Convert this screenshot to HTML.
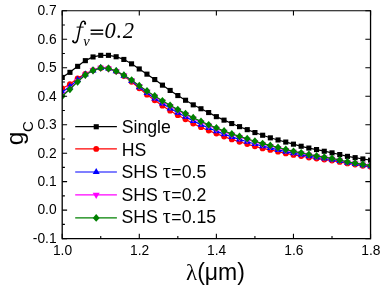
<!DOCTYPE html>
<html><head><meta charset="utf-8"><title>chart</title>
<style>
html,body{margin:0;padding:0;background:#fff;}
svg{display:block;filter:opacity(1);}
text{font-family:"Liberation Sans",sans-serif;fill:#000;}
.s{font-family:"Liberation Serif",serif;}
.i{font-family:"Liberation Serif",serif;font-style:italic;}
</style></head><body>
<svg width="382" height="286" viewBox="0 0 382 286">
<rect width="382" height="286" fill="#fff"/>
<defs><clipPath id="c"><rect x="62.2" y="10.8" width="308.35" height="227.79999999999998"/></clipPath></defs>
<g clip-path="url(#c)">
<polyline points="62.2,77.4 69.9,72.3 77.6,66.3 85.3,60.6 93.0,56.9 100.7,55.3 108.5,55.3 116.2,56.7 123.9,59.5 131.6,63.8 139.3,68.9 147.0,74.2 154.7,79.5 162.4,85.1 170.1,90.5 177.8,95.5 185.5,100.2 193.2,104.8 201.0,108.7 208.7,112.6 216.4,116.6 224.1,120.1 231.8,123.5 239.5,126.7 247.2,129.6 254.9,132.5 262.6,135.3 270.3,137.8 278.0,140.0 285.8,142.1 293.5,144.2 301.2,146.3 308.9,148.1 316.6,149.6 324.3,151.2 332.0,152.8 339.7,154.5 347.4,156.3 355.1,157.6 362.8,159.0 370.6,160.2" fill="none" stroke="#000" stroke-width="1.2"/>
<rect x="59.7" y="74.9" width="5.1" height="5.1" fill="#000"/>
<rect x="67.4" y="69.8" width="5.1" height="5.1" fill="#000"/>
<rect x="75.1" y="63.8" width="5.1" height="5.1" fill="#000"/>
<rect x="82.8" y="58.1" width="5.1" height="5.1" fill="#000"/>
<rect x="90.5" y="54.4" width="5.1" height="5.1" fill="#000"/>
<rect x="98.2" y="52.8" width="5.1" height="5.1" fill="#000"/>
<rect x="105.9" y="52.8" width="5.1" height="5.1" fill="#000"/>
<rect x="113.6" y="54.2" width="5.1" height="5.1" fill="#000"/>
<rect x="121.3" y="56.9" width="5.1" height="5.1" fill="#000"/>
<rect x="129.0" y="61.3" width="5.1" height="5.1" fill="#000"/>
<rect x="136.7" y="66.4" width="5.1" height="5.1" fill="#000"/>
<rect x="144.4" y="71.6" width="5.1" height="5.1" fill="#000"/>
<rect x="152.2" y="77.0" width="5.1" height="5.1" fill="#000"/>
<rect x="159.9" y="82.6" width="5.1" height="5.1" fill="#000"/>
<rect x="167.6" y="87.9" width="5.1" height="5.1" fill="#000"/>
<rect x="175.3" y="93.0" width="5.1" height="5.1" fill="#000"/>
<rect x="183.0" y="97.7" width="5.1" height="5.1" fill="#000"/>
<rect x="190.7" y="102.3" width="5.1" height="5.1" fill="#000"/>
<rect x="198.4" y="106.2" width="5.1" height="5.1" fill="#000"/>
<rect x="206.1" y="110.0" width="5.1" height="5.1" fill="#000"/>
<rect x="213.8" y="114.1" width="5.1" height="5.1" fill="#000"/>
<rect x="221.5" y="117.6" width="5.1" height="5.1" fill="#000"/>
<rect x="229.2" y="121.0" width="5.1" height="5.1" fill="#000"/>
<rect x="237.0" y="124.1" width="5.1" height="5.1" fill="#000"/>
<rect x="244.7" y="127.1" width="5.1" height="5.1" fill="#000"/>
<rect x="252.4" y="130.0" width="5.1" height="5.1" fill="#000"/>
<rect x="260.1" y="132.7" width="5.1" height="5.1" fill="#000"/>
<rect x="267.8" y="135.3" width="5.1" height="5.1" fill="#000"/>
<rect x="275.5" y="137.4" width="5.1" height="5.1" fill="#000"/>
<rect x="283.2" y="139.5" width="5.1" height="5.1" fill="#000"/>
<rect x="290.9" y="141.6" width="5.1" height="5.1" fill="#000"/>
<rect x="298.6" y="143.7" width="5.1" height="5.1" fill="#000"/>
<rect x="306.3" y="145.5" width="5.1" height="5.1" fill="#000"/>
<rect x="314.0" y="147.0" width="5.1" height="5.1" fill="#000"/>
<rect x="321.7" y="148.7" width="5.1" height="5.1" fill="#000"/>
<rect x="329.5" y="150.3" width="5.1" height="5.1" fill="#000"/>
<rect x="337.2" y="152.0" width="5.1" height="5.1" fill="#000"/>
<rect x="344.9" y="153.8" width="5.1" height="5.1" fill="#000"/>
<rect x="352.6" y="155.1" width="5.1" height="5.1" fill="#000"/>
<rect x="360.3" y="156.4" width="5.1" height="5.1" fill="#000"/>
<rect x="368.0" y="157.6" width="5.1" height="5.1" fill="#000"/>
<polyline points="62.2,88.5 69.9,84.2 77.6,78.3 85.3,73.9 93.0,70.2 100.7,67.9 108.5,68.5 116.2,71.3 123.9,76.0 131.6,81.8 139.3,88.3 147.0,94.7 154.7,100.3 162.4,105.7 170.1,110.7 177.8,115.2 185.5,119.3 193.2,123.6 201.0,127.2 208.7,130.6 216.4,133.6 224.1,136.6 231.8,139.4 239.5,141.8 247.2,144.1 254.9,146.3 262.6,148.4 270.3,149.9 278.0,151.7 285.8,153.4 293.5,154.9 301.2,156.1 308.9,157.5 316.6,158.6 324.3,159.6 332.0,160.6 339.7,161.9 347.4,163.4 355.1,164.6 362.8,165.8 370.6,166.8" fill="none" stroke="#ff0000" stroke-width="1.2"/>
<circle cx="62.2" cy="88.5" r="2.9" fill="#ff0000"/>
<circle cx="69.9" cy="84.2" r="2.9" fill="#ff0000"/>
<circle cx="77.6" cy="78.3" r="2.9" fill="#ff0000"/>
<circle cx="85.3" cy="73.9" r="2.9" fill="#ff0000"/>
<circle cx="93.0" cy="70.2" r="2.9" fill="#ff0000"/>
<circle cx="100.7" cy="67.9" r="2.9" fill="#ff0000"/>
<circle cx="108.5" cy="68.5" r="2.9" fill="#ff0000"/>
<circle cx="116.2" cy="71.3" r="2.9" fill="#ff0000"/>
<circle cx="123.9" cy="76.0" r="2.9" fill="#ff0000"/>
<circle cx="131.6" cy="81.8" r="2.9" fill="#ff0000"/>
<circle cx="139.3" cy="88.3" r="2.9" fill="#ff0000"/>
<circle cx="147.0" cy="94.7" r="2.9" fill="#ff0000"/>
<circle cx="154.7" cy="100.3" r="2.9" fill="#ff0000"/>
<circle cx="162.4" cy="105.7" r="2.9" fill="#ff0000"/>
<circle cx="170.1" cy="110.7" r="2.9" fill="#ff0000"/>
<circle cx="177.8" cy="115.2" r="2.9" fill="#ff0000"/>
<circle cx="185.5" cy="119.3" r="2.9" fill="#ff0000"/>
<circle cx="193.2" cy="123.6" r="2.9" fill="#ff0000"/>
<circle cx="201.0" cy="127.2" r="2.9" fill="#ff0000"/>
<circle cx="208.7" cy="130.6" r="2.9" fill="#ff0000"/>
<circle cx="216.4" cy="133.6" r="2.9" fill="#ff0000"/>
<circle cx="224.1" cy="136.6" r="2.9" fill="#ff0000"/>
<circle cx="231.8" cy="139.4" r="2.9" fill="#ff0000"/>
<circle cx="239.5" cy="141.8" r="2.9" fill="#ff0000"/>
<circle cx="247.2" cy="144.1" r="2.9" fill="#ff0000"/>
<circle cx="254.9" cy="146.3" r="2.9" fill="#ff0000"/>
<circle cx="262.6" cy="148.4" r="2.9" fill="#ff0000"/>
<circle cx="270.3" cy="149.9" r="2.9" fill="#ff0000"/>
<circle cx="278.0" cy="151.7" r="2.9" fill="#ff0000"/>
<circle cx="285.8" cy="153.4" r="2.9" fill="#ff0000"/>
<circle cx="293.5" cy="154.9" r="2.9" fill="#ff0000"/>
<circle cx="301.2" cy="156.1" r="2.9" fill="#ff0000"/>
<circle cx="308.9" cy="157.5" r="2.9" fill="#ff0000"/>
<circle cx="316.6" cy="158.6" r="2.9" fill="#ff0000"/>
<circle cx="324.3" cy="159.6" r="2.9" fill="#ff0000"/>
<circle cx="332.0" cy="160.6" r="2.9" fill="#ff0000"/>
<circle cx="339.7" cy="161.9" r="2.9" fill="#ff0000"/>
<circle cx="347.4" cy="163.4" r="2.9" fill="#ff0000"/>
<circle cx="355.1" cy="164.6" r="2.9" fill="#ff0000"/>
<circle cx="362.8" cy="165.8" r="2.9" fill="#ff0000"/>
<circle cx="370.6" cy="166.8" r="2.9" fill="#ff0000"/>
<polyline points="62.2,92.0 69.9,86.5 77.6,79.9 85.3,74.4 93.0,70.3 100.7,67.9 108.5,68.5 116.2,71.2 123.9,75.6 131.6,81.0 139.3,87.1 147.0,93.0 154.7,98.4 162.4,103.5 170.1,108.3 177.8,112.7 185.5,116.7 193.2,120.9 201.0,124.6 208.7,128.0 216.4,131.1 224.1,134.1 231.8,136.9 239.5,139.4 247.2,141.7 254.9,144.0 262.6,146.2 270.3,147.9 278.0,149.8 285.8,151.6 293.5,153.2 301.2,154.6 308.9,156.1 316.6,157.4 324.3,158.5 332.0,159.6 339.7,161.0 347.4,162.7 355.1,163.9 362.8,165.1 370.6,166.1" fill="none" stroke="#0000ff" stroke-width="1.2"/>
<path d="M62.2,87.9l3.5,6.2h-7.0z" fill="#0000ff"/>
<path d="M69.9,82.4l3.5,6.2h-7.0z" fill="#0000ff"/>
<path d="M77.6,75.8l3.5,6.2h-7.0z" fill="#0000ff"/>
<path d="M85.3,70.3l3.5,6.2h-7.0z" fill="#0000ff"/>
<path d="M93.0,66.2l3.5,6.2h-7.0z" fill="#0000ff"/>
<path d="M100.7,63.8l3.5,6.2h-7.0z" fill="#0000ff"/>
<path d="M108.5,64.4l3.5,6.2h-7.0z" fill="#0000ff"/>
<path d="M116.2,67.1l3.5,6.2h-7.0z" fill="#0000ff"/>
<path d="M123.9,71.5l3.5,6.2h-7.0z" fill="#0000ff"/>
<path d="M131.6,76.9l3.5,6.2h-7.0z" fill="#0000ff"/>
<path d="M139.3,83.0l3.5,6.2h-7.0z" fill="#0000ff"/>
<path d="M147.0,88.9l3.5,6.2h-7.0z" fill="#0000ff"/>
<path d="M154.7,94.3l3.5,6.2h-7.0z" fill="#0000ff"/>
<path d="M162.4,99.4l3.5,6.2h-7.0z" fill="#0000ff"/>
<path d="M170.1,104.2l3.5,6.2h-7.0z" fill="#0000ff"/>
<path d="M177.8,108.6l3.5,6.2h-7.0z" fill="#0000ff"/>
<path d="M185.5,112.6l3.5,6.2h-7.0z" fill="#0000ff"/>
<path d="M193.2,116.8l3.5,6.2h-7.0z" fill="#0000ff"/>
<path d="M201.0,120.5l3.5,6.2h-7.0z" fill="#0000ff"/>
<path d="M208.7,123.9l3.5,6.2h-7.0z" fill="#0000ff"/>
<path d="M216.4,127.0l3.5,6.2h-7.0z" fill="#0000ff"/>
<path d="M224.1,130.0l3.5,6.2h-7.0z" fill="#0000ff"/>
<path d="M231.8,132.8l3.5,6.2h-7.0z" fill="#0000ff"/>
<path d="M239.5,135.3l3.5,6.2h-7.0z" fill="#0000ff"/>
<path d="M247.2,137.6l3.5,6.2h-7.0z" fill="#0000ff"/>
<path d="M254.9,139.9l3.5,6.2h-7.0z" fill="#0000ff"/>
<path d="M262.6,142.1l3.5,6.2h-7.0z" fill="#0000ff"/>
<path d="M270.3,143.8l3.5,6.2h-7.0z" fill="#0000ff"/>
<path d="M278.0,145.7l3.5,6.2h-7.0z" fill="#0000ff"/>
<path d="M285.8,147.5l3.5,6.2h-7.0z" fill="#0000ff"/>
<path d="M293.5,149.1l3.5,6.2h-7.0z" fill="#0000ff"/>
<path d="M301.2,150.5l3.5,6.2h-7.0z" fill="#0000ff"/>
<path d="M308.9,152.0l3.5,6.2h-7.0z" fill="#0000ff"/>
<path d="M316.6,153.3l3.5,6.2h-7.0z" fill="#0000ff"/>
<path d="M324.3,154.4l3.5,6.2h-7.0z" fill="#0000ff"/>
<path d="M332.0,155.5l3.5,6.2h-7.0z" fill="#0000ff"/>
<path d="M339.7,156.9l3.5,6.2h-7.0z" fill="#0000ff"/>
<path d="M347.4,158.6l3.5,6.2h-7.0z" fill="#0000ff"/>
<path d="M355.1,159.8l3.5,6.2h-7.0z" fill="#0000ff"/>
<path d="M362.8,161.0l3.5,6.2h-7.0z" fill="#0000ff"/>
<path d="M370.6,162.0l3.5,6.2h-7.0z" fill="#0000ff"/>
<polyline points="62.2,95.1 69.9,88.6 77.6,81.2 85.3,74.8 93.0,70.4 100.7,67.9 108.5,68.5 116.2,71.1 123.9,75.3 131.6,80.3 139.3,86.1 147.0,91.5 154.7,96.7 162.4,101.6 170.1,106.1 177.8,110.4 185.5,114.4 193.2,118.6 201.0,122.3 208.7,125.7 216.4,128.8 224.1,131.9 231.8,134.7 239.5,137.2 247.2,139.5 254.9,142.0 262.6,144.3 270.3,146.0 278.0,148.1 285.8,150.1 293.5,151.8 301.2,153.3 308.9,154.9 316.6,156.3 324.3,157.5 332.0,158.8 339.7,160.3 347.4,162.0 355.1,163.3 362.8,164.5 370.6,165.6" fill="none" stroke="#ff00ff" stroke-width="1.2"/>
<path d="M62.2,99.3l3.5,-6.3h-7.0z" fill="#ff00ff"/>
<path d="M69.9,92.8l3.5,-6.3h-7.0z" fill="#ff00ff"/>
<path d="M77.6,85.4l3.5,-6.3h-7.0z" fill="#ff00ff"/>
<path d="M85.3,79.0l3.5,-6.3h-7.0z" fill="#ff00ff"/>
<path d="M93.0,74.6l3.5,-6.3h-7.0z" fill="#ff00ff"/>
<path d="M100.7,72.1l3.5,-6.3h-7.0z" fill="#ff00ff"/>
<path d="M108.5,72.7l3.5,-6.3h-7.0z" fill="#ff00ff"/>
<path d="M116.2,75.3l3.5,-6.3h-7.0z" fill="#ff00ff"/>
<path d="M123.9,79.5l3.5,-6.3h-7.0z" fill="#ff00ff"/>
<path d="M131.6,84.5l3.5,-6.3h-7.0z" fill="#ff00ff"/>
<path d="M139.3,90.3l3.5,-6.3h-7.0z" fill="#ff00ff"/>
<path d="M147.0,95.7l3.5,-6.3h-7.0z" fill="#ff00ff"/>
<path d="M154.7,100.9l3.5,-6.3h-7.0z" fill="#ff00ff"/>
<path d="M162.4,105.8l3.5,-6.3h-7.0z" fill="#ff00ff"/>
<path d="M170.1,110.3l3.5,-6.3h-7.0z" fill="#ff00ff"/>
<path d="M177.8,114.6l3.5,-6.3h-7.0z" fill="#ff00ff"/>
<path d="M185.5,118.6l3.5,-6.3h-7.0z" fill="#ff00ff"/>
<path d="M193.2,122.8l3.5,-6.3h-7.0z" fill="#ff00ff"/>
<path d="M201.0,126.5l3.5,-6.3h-7.0z" fill="#ff00ff"/>
<path d="M208.7,129.9l3.5,-6.3h-7.0z" fill="#ff00ff"/>
<path d="M216.4,133.0l3.5,-6.3h-7.0z" fill="#ff00ff"/>
<path d="M224.1,136.1l3.5,-6.3h-7.0z" fill="#ff00ff"/>
<path d="M231.8,138.9l3.5,-6.3h-7.0z" fill="#ff00ff"/>
<path d="M239.5,141.4l3.5,-6.3h-7.0z" fill="#ff00ff"/>
<path d="M247.2,143.7l3.5,-6.3h-7.0z" fill="#ff00ff"/>
<path d="M254.9,146.2l3.5,-6.3h-7.0z" fill="#ff00ff"/>
<path d="M262.6,148.5l3.5,-6.3h-7.0z" fill="#ff00ff"/>
<path d="M270.3,150.2l3.5,-6.3h-7.0z" fill="#ff00ff"/>
<path d="M278.0,152.3l3.5,-6.3h-7.0z" fill="#ff00ff"/>
<path d="M285.8,154.3l3.5,-6.3h-7.0z" fill="#ff00ff"/>
<path d="M293.5,156.0l3.5,-6.3h-7.0z" fill="#ff00ff"/>
<path d="M301.2,157.5l3.5,-6.3h-7.0z" fill="#ff00ff"/>
<path d="M308.9,159.1l3.5,-6.3h-7.0z" fill="#ff00ff"/>
<path d="M316.6,160.5l3.5,-6.3h-7.0z" fill="#ff00ff"/>
<path d="M324.3,161.7l3.5,-6.3h-7.0z" fill="#ff00ff"/>
<path d="M332.0,163.0l3.5,-6.3h-7.0z" fill="#ff00ff"/>
<path d="M339.7,164.5l3.5,-6.3h-7.0z" fill="#ff00ff"/>
<path d="M347.4,166.2l3.5,-6.3h-7.0z" fill="#ff00ff"/>
<path d="M355.1,167.5l3.5,-6.3h-7.0z" fill="#ff00ff"/>
<path d="M362.8,168.7l3.5,-6.3h-7.0z" fill="#ff00ff"/>
<path d="M370.6,169.8l3.5,-6.3h-7.0z" fill="#ff00ff"/>
<polyline points="62.2,96.2 69.9,89.3 77.6,81.8 85.3,75.0 93.0,70.5 100.7,67.9 108.5,68.5 116.2,71.0 123.9,75.2 131.6,80.1 139.3,85.7 147.0,91.0 154.7,96.0 162.4,100.8 170.1,105.3 177.8,109.6 185.5,113.6 193.2,117.7 201.0,121.4 208.7,124.8 216.4,127.9 224.1,131.0 231.8,133.9 239.5,136.4 247.2,138.7 254.9,141.2 262.6,143.6 270.3,145.4 278.0,147.5 285.8,149.5 293.5,151.3 301.2,152.8 308.9,154.5 316.6,155.9 324.3,157.2 332.0,158.4 339.7,160.0 347.4,161.8 355.1,163.1 362.8,164.3 370.6,165.4" fill="none" stroke="#008000" stroke-width="1.2"/>
<path d="M62.2,92.3l3.45,3.9l-3.45,3.9l-3.45,-3.9z" fill="#008000"/>
<path d="M69.9,85.4l3.45,3.9l-3.45,3.9l-3.45,-3.9z" fill="#008000"/>
<path d="M77.6,77.9l3.45,3.9l-3.45,3.9l-3.45,-3.9z" fill="#008000"/>
<path d="M85.3,71.1l3.45,3.9l-3.45,3.9l-3.45,-3.9z" fill="#008000"/>
<path d="M93.0,66.6l3.45,3.9l-3.45,3.9l-3.45,-3.9z" fill="#008000"/>
<path d="M100.7,64.0l3.45,3.9l-3.45,3.9l-3.45,-3.9z" fill="#008000"/>
<path d="M108.5,64.6l3.45,3.9l-3.45,3.9l-3.45,-3.9z" fill="#008000"/>
<path d="M116.2,67.1l3.45,3.9l-3.45,3.9l-3.45,-3.9z" fill="#008000"/>
<path d="M123.9,71.3l3.45,3.9l-3.45,3.9l-3.45,-3.9z" fill="#008000"/>
<path d="M131.6,76.2l3.45,3.9l-3.45,3.9l-3.45,-3.9z" fill="#008000"/>
<path d="M139.3,81.8l3.45,3.9l-3.45,3.9l-3.45,-3.9z" fill="#008000"/>
<path d="M147.0,87.1l3.45,3.9l-3.45,3.9l-3.45,-3.9z" fill="#008000"/>
<path d="M154.7,92.1l3.45,3.9l-3.45,3.9l-3.45,-3.9z" fill="#008000"/>
<path d="M162.4,96.9l3.45,3.9l-3.45,3.9l-3.45,-3.9z" fill="#008000"/>
<path d="M170.1,101.4l3.45,3.9l-3.45,3.9l-3.45,-3.9z" fill="#008000"/>
<path d="M177.8,105.7l3.45,3.9l-3.45,3.9l-3.45,-3.9z" fill="#008000"/>
<path d="M185.5,109.7l3.45,3.9l-3.45,3.9l-3.45,-3.9z" fill="#008000"/>
<path d="M193.2,113.8l3.45,3.9l-3.45,3.9l-3.45,-3.9z" fill="#008000"/>
<path d="M201.0,117.5l3.45,3.9l-3.45,3.9l-3.45,-3.9z" fill="#008000"/>
<path d="M208.7,120.9l3.45,3.9l-3.45,3.9l-3.45,-3.9z" fill="#008000"/>
<path d="M216.4,124.0l3.45,3.9l-3.45,3.9l-3.45,-3.9z" fill="#008000"/>
<path d="M224.1,127.1l3.45,3.9l-3.45,3.9l-3.45,-3.9z" fill="#008000"/>
<path d="M231.8,130.0l3.45,3.9l-3.45,3.9l-3.45,-3.9z" fill="#008000"/>
<path d="M239.5,132.5l3.45,3.9l-3.45,3.9l-3.45,-3.9z" fill="#008000"/>
<path d="M247.2,134.8l3.45,3.9l-3.45,3.9l-3.45,-3.9z" fill="#008000"/>
<path d="M254.9,137.3l3.45,3.9l-3.45,3.9l-3.45,-3.9z" fill="#008000"/>
<path d="M262.6,139.7l3.45,3.9l-3.45,3.9l-3.45,-3.9z" fill="#008000"/>
<path d="M270.3,141.5l3.45,3.9l-3.45,3.9l-3.45,-3.9z" fill="#008000"/>
<path d="M278.0,143.6l3.45,3.9l-3.45,3.9l-3.45,-3.9z" fill="#008000"/>
<path d="M285.8,145.6l3.45,3.9l-3.45,3.9l-3.45,-3.9z" fill="#008000"/>
<path d="M293.5,147.4l3.45,3.9l-3.45,3.9l-3.45,-3.9z" fill="#008000"/>
<path d="M301.2,148.9l3.45,3.9l-3.45,3.9l-3.45,-3.9z" fill="#008000"/>
<path d="M308.9,150.6l3.45,3.9l-3.45,3.9l-3.45,-3.9z" fill="#008000"/>
<path d="M316.6,152.0l3.45,3.9l-3.45,3.9l-3.45,-3.9z" fill="#008000"/>
<path d="M324.3,153.3l3.45,3.9l-3.45,3.9l-3.45,-3.9z" fill="#008000"/>
<path d="M332.0,154.5l3.45,3.9l-3.45,3.9l-3.45,-3.9z" fill="#008000"/>
<path d="M339.7,156.1l3.45,3.9l-3.45,3.9l-3.45,-3.9z" fill="#008000"/>
<path d="M347.4,157.9l3.45,3.9l-3.45,3.9l-3.45,-3.9z" fill="#008000"/>
<path d="M355.1,159.2l3.45,3.9l-3.45,3.9l-3.45,-3.9z" fill="#008000"/>
<path d="M362.8,160.4l3.45,3.9l-3.45,3.9l-3.45,-3.9z" fill="#008000"/>
<path d="M370.6,161.5l3.45,3.9l-3.45,3.9l-3.45,-3.9z" fill="#008000"/>
</g>
<path d="M62.2,10.200000000000001V239.25M370.55,10.200000000000001V239.25" fill="none" stroke="#000" stroke-width="1.3"/>
<path d="M62.2,10.8H370.55M62.2,238.6H370.55" fill="none" stroke="#000" stroke-width="1.05"/>
<path d="M62.2,10.80h4.9M370.55,10.80h-5.2M62.2,25.04h2.7M62.2,39.27h4.9M370.55,39.27h-5.2M62.2,53.51h2.7M62.2,67.75h4.9M370.55,67.75h-5.2M62.2,81.99h2.7M62.2,96.23h4.9M370.55,96.23h-5.2M62.2,110.46h2.7M62.2,124.70h4.9M370.55,124.70h-5.2M62.2,138.94h2.7M62.2,153.18h4.9M370.55,153.18h-5.2M62.2,167.41h2.7M62.2,181.65h4.9M370.55,181.65h-5.2M62.2,195.89h2.7M62.2,210.12h4.9M370.55,210.12h-5.2M62.2,224.36h2.7M62.2,238.60h4.9M370.55,238.60h-5.2M62.20,238.6v-4.9M62.20,10.8v4.7M100.74,238.6v-2.6M139.29,238.6v-4.9M139.29,10.8v4.7M177.83,238.6v-2.6M216.38,238.6v-4.9M216.38,10.8v4.7M254.92,238.6v-2.6M293.46,238.6v-4.9M293.46,10.8v4.7M332.01,238.6v-2.6M370.55,238.6v-4.9M370.55,10.8v4.7" stroke="#000" stroke-width="1.1" fill="none"/>
<text x="56.6" y="15.1" text-anchor="end" font-size="13.8">0.7</text>
<text x="56.6" y="43.6" text-anchor="end" font-size="13.8">0.6</text>
<text x="56.6" y="72.0" text-anchor="end" font-size="13.8">0.5</text>
<text x="56.6" y="100.5" text-anchor="end" font-size="13.8">0.4</text>
<text x="56.6" y="129.0" text-anchor="end" font-size="13.8">0.3</text>
<text x="56.6" y="157.5" text-anchor="end" font-size="13.8">0.2</text>
<text x="56.6" y="186.0" text-anchor="end" font-size="13.8">0.1</text>
<text x="56.6" y="214.4" text-anchor="end" font-size="13.8">0.0</text>
<text x="56.6" y="242.9" text-anchor="end" font-size="13.8">-0.1</text>
<text x="62.5" y="255.2" text-anchor="middle" font-size="13.8">1.0</text>
<text x="139.6" y="255.2" text-anchor="middle" font-size="13.8">1.2</text>
<text x="216.7" y="255.2" text-anchor="middle" font-size="13.8">1.4</text>
<text x="293.8" y="255.2" text-anchor="middle" font-size="13.8">1.6</text>
<text x="370.9" y="255.2" text-anchor="middle" font-size="13.8">1.8</text>
<path d="M75.2,126.7H116.9" stroke="#000" stroke-width="1.2"/>
<rect x="93.7" y="124.2" width="5.1" height="5.1" fill="#000"/>
<text x="121.7" y="132.6" font-size="17.7">Single</text>
<path d="M75.2,148.9H116.9" stroke="#ff0000" stroke-width="1.2"/>
<circle cx="96.2" cy="148.9" r="2.9" fill="#ff0000"/>
<text x="121.7" y="155.6" font-size="17.7">HS</text>
<path d="M75.2,172.0H116.9" stroke="#0000ff" stroke-width="1.2"/>
<path d="M96.2,167.9l3.5,6.2h-7.0z" fill="#0000ff"/>
<text x="121.4" y="178.2" font-size="17.7">SHS <tspan class="s" font-size="20">τ</tspan><tspan dx="0.6">=0.5</tspan></text>
<path d="M75.2,194.9H116.9" stroke="#ff00ff" stroke-width="1.2"/>
<path d="M96.2,199.1l3.5,-6.3h-7.0z" fill="#ff00ff"/>
<text x="121.4" y="200.8" font-size="17.7">SHS <tspan class="s" font-size="20">τ</tspan><tspan dx="0.6">=0.2</tspan></text>
<path d="M75.2,217.9H116.9" stroke="#008000" stroke-width="1.2"/>
<path d="M96.2,214.0l3.45,3.9l-3.45,3.9l-3.45,-3.9z" fill="#008000"/>
<text x="121.4" y="223.4" font-size="17.7">SHS <tspan class="s" font-size="20">τ</tspan><tspan dx="0.6">=0.15</tspan></text>
<path d="M85.3,23.7C85.3,21.4 83.5,20.7 82.2,21.7C80.8,22.9 80.2,26 79.6,29.5L77.9,38C77.4,40.8 76.4,42.7 74.9,42.7C73.9,42.7 73.2,42.1 73,41.3" fill="none" stroke="#000" stroke-width="1.45" stroke-linecap="round"/>
<circle cx="85.1" cy="23.6" r="1.1"/><circle cx="73.2" cy="41.3" r="1.1"/>
<path d="M76.6,27.1H83.7" stroke="#000" stroke-width="1.0"/>
<path d="M90.6,30.15H103.2M90.6,33.95H103.2" stroke="#000" stroke-width="1.5"/>
<text class="i" x="83.2" y="46.4" font-size="14.5">v</text>
<text class="i" x="104.6" y="38.3" font-size="22.5" letter-spacing="0.6">0.2</text>
<text x="186" y="280.2" font-size="23"><tspan class="s">λ</tspan>(μm)</text>
<g transform="translate(23.1,145.2) rotate(-90)"><text x="0" y="0" font-size="24.5">g</text><text x="13.2" y="9.9" font-size="15.1">C</text></g>
</svg>
</body></html>
